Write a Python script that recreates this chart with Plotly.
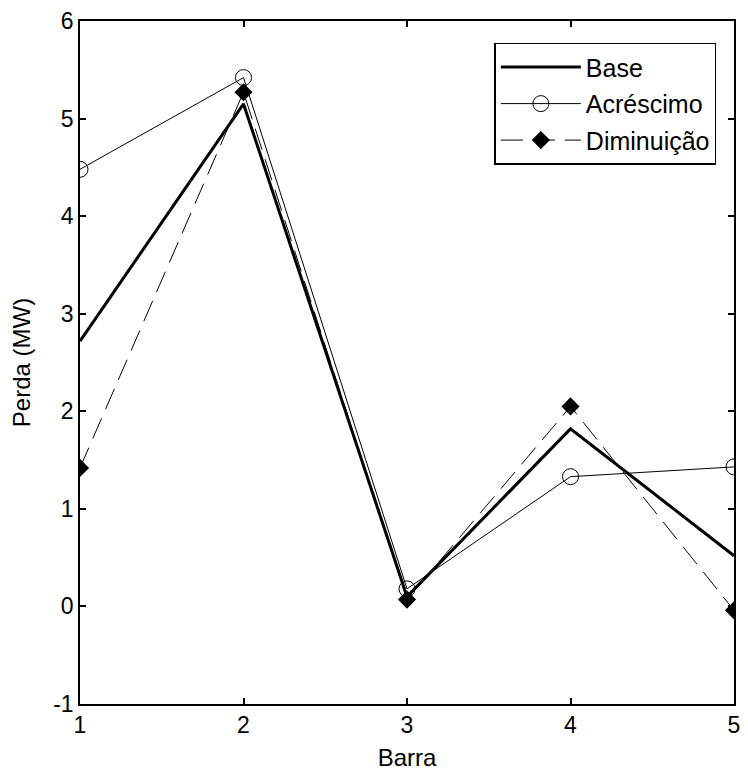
import plotly.graph_objects as go

barra = [1, 2, 3, 4, 5]
base = [2.72, 5.15, 0.10, 1.82, 0.52]
acrescimo = [4.48, 5.42, 0.18, 1.33, 1.43]
diminuicao = [1.42, 5.27, 0.07, 2.05, -0.04]
y_ticks = [-1, 0, 1, 2, 3, 4, 5, 6]
y_tick_labels = ["-1", "0", "1", "2", "3", "4", "5", "6"]

FONT = "Liberation Sans, Arial, sans-serif"

fig = go.Figure()
fig.add_trace(go.Scatter(x=barra, y=base, mode="lines", name="Base", legendgroup="a",
                         line=dict(color="black", width=3)))
fig.add_trace(go.Scatter(x=barra, y=acrescimo, mode="lines+markers", name="Acréscimo",
                         legendgroup="b",
                         line=dict(color="black", width=1),
                         marker=dict(symbol="circle-open", size=16, color="black",
                                     line=dict(width=1, color="black"))))
fig.add_trace(go.Scatter(x=barra, y=diminuicao, mode="lines+markers", name="Diminuição",
                         legendgroup="c",
                         line=dict(color="black", width=1, dash="22px,10px"),
                         marker=dict(symbol="diamond", size=14, color="black")))

axis_common = dict(showgrid=False, zeroline=False, showline=True, linecolor="black",
                   linewidth=1.5, mirror="ticks", ticks="inside", ticklen=6,
                   tickcolor="black", tickwidth=1.5,
                   tickfont=dict(family=FONT, size=23, color="black"))

fig.update_layout(
    width=748, height=778,
    margin=dict(l=80, r=8, t=20, b=74),
    paper_bgcolor="white", plot_bgcolor="white",
    font=dict(family=FONT, size=23, color="black"),
    xaxis=dict(range=[1, 5], dtick=1, title=dict(text="Barra", standoff=12,
               font=dict(family=FONT, size=24)), **axis_common),
    yaxis=dict(range=[-1, 6], tickvals=y_ticks, ticktext=y_tick_labels,
               title=dict(text="Perda (MW)", standoff=16,
               font=dict(family=FONT, size=24)), **axis_common),
    legend=dict(x=0.973, y=0.968, xanchor="right", yanchor="top",
                bgcolor="white", bordercolor="black", borderwidth=1.5,
                font=dict(family=FONT, size=25, color="black"),
                itemwidth=80, tracegroupgap=1),
    showlegend=True,
)

fig.write_html("out.html")
